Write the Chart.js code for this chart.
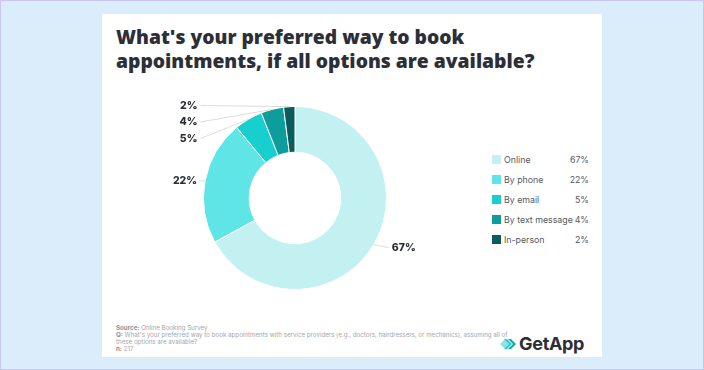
<!DOCTYPE html>
<html>
<head>
<meta charset="utf-8">
<script src="https://cdn.jsdelivr.net/npm/chart.js@4/dist/chart.umd.min.js"></script>
<style>
  html, body { margin: 0; padding: 0; }
  body {
    width: 704px; height: 370px; position: relative; overflow: hidden;
    background: #dbecfb; box-sizing: border-box; border: 1px solid #c9c6f5;
    font-family: Inter, 'Noto Sans', sans-serif;
  }
  #card {
    position: absolute; left: 101px; top: 13px; width: 500px; height: 343px;
    background: #fff;
  }
  #title {
    position: absolute; left: 14px; top: 11px; margin: 0;
    font-family: 'Open Sans', sans-serif;
    font-size: 19.3px; line-height: 24px; font-weight: 800; color: #2c2f37;
    white-space: nowrap;
  }
  #chartBox { position: absolute; left: 48px; top: 82px; width: 290px; height: 204px; }
  #donut { width: 290px; height: 204px; }
  #legend { position: absolute; left: 390px; top: 135px; width: 97px; }
  .row { display: flex; align-items: center; height: 20px; font-size: 8.8px; color: #555a60; }
  .sw { width: 9px; height: 9px; margin-right: 3px; flex: none; }
  .lbl { flex: 1; white-space: nowrap; }
  .val { text-align: right; }
  #foot {
    position: absolute; left: 14px; top: 310px; width: 380px;
    font-size: 6.2px; line-height: 7px; color: #a3a6aa; white-space: nowrap;
  }
  #foot b { color: #8c8f94; font-weight: 700; }
  #logo { position: absolute; left: 398px; top: 319px; display: flex; align-items: center; }
  #logo span { font-size: 18px; font-weight: 700; color: #2b2e36; margin-left: 2px; letter-spacing: -0.3px; }
</style>
</head>
<body>
<div id="card">
  <h1 id="title">What's your preferred way to book<br>appointments, if all options are available?</h1>
  <div id="chartBox"><canvas id="donut" width="290" height="204"></canvas></div>
  <div id="legend"></div>
  <div id="foot">
    <div><b>Source:</b> Online Booking Survey</div>
    <div><b>Q:</b> What's your preferred way to book appointments with service providers (e.g., doctors, hairdressers, or mechanics), assuming all of</div>
    <div>these options are available?</div>
    <div><b>n:</b> 217</div>
  </div>
  <div id="logo">
    <svg width="17" height="16" viewBox="0 0 17 16">
      <path d="M0 8 L5 3 L10 8 L5 13 Z" fill="#8fe3e3"/>
      <path d="M4 3 L7 3 L12 8 L7 13 L4 13 L9 8 Z" fill="#2fcfcf"/>
      <path d="M8 3 L11 3 L16 8 L11 13 L8 13 L13 8 Z" fill="#10a9a9"/>
    </svg>
    <span>GetApp</span>
  </div>
</div>
<script>
const categories = ['Online', 'By phone', 'By email', 'By text message', 'In-person'];
const shares = [67, 22, 5, 4, 2];
const colors = ['#c3f1f1', '#5fe5e5', '#17cfcf', '#0e9d9d', '#0b5d5d'];

// legend built from the same arrays
const legendEl = document.getElementById('legend');
categories.forEach((name, i) => {
  const row = document.createElement('div');
  row.className = 'row';
  row.innerHTML = '<div class="sw" style="background:' + colors[i] + '"></div>' +
    '<div class="lbl">' + name + '</div><div class="val">' + shares[i] + '%</div>';
  legendEl.appendChild(row);
});

/**
 * Draws percentage labels with leader lines. Big slices get a label beside the
 * slice middle, small ones are stacked in a column at the top left.
 */
const outsideLabels = {
  id: 'outsideLabels',
  afterDatasetsDraw(chart) {
    const { ctx } = chart;
    const arcs = chart.getDatasetMeta(0).data;
    ctx.save();
    ctx.font = '800 10.5px Inter, sans-serif';
    ctx.textBaseline = 'middle';
    ctx.lineWidth = 1;
    ctx.strokeStyle = '#dcdcdc';
    ctx.fillStyle = '#2a2d35';
    let smallIdx = 0;
    for (let i = arcs.length - 1; i >= 0; i--) {
      const arc = arcs[i];
      const { x, y, startAngle, endAngle, outerRadius } = arc.getProps(['x', 'y', 'startAngle', 'endAngle', 'outerRadius'], true);
      const mid = (startAngle + endAngle) / 2;
      const px = x + Math.cos(mid) * outerRadius;
      const py = y + Math.sin(mid) * outerRadius;
      const text = shares[i] + '%';
      if (shares[i] < 10) {
        const ly = y - outerRadius - 1 + smallIdx * 16.5;
        const lx = x - outerRadius - 6;
        smallIdx++;
        ctx.beginPath();
        ctx.moveTo(lx + 3, ly);
        ctx.lineTo(px, py);
        ctx.stroke();
        ctx.textAlign = 'right';
        ctx.fillText(text, lx, ly);
      } else if (Math.cos(mid) >= 0) {
        const ly = py + 3;
        ctx.beginPath();
        ctx.moveTo(px, py);
        ctx.lineTo(px + 15, ly);
        ctx.stroke();
        ctx.textAlign = 'left';
        ctx.fillText(text, px + 18, ly);
      } else {
        ctx.beginPath();
        ctx.moveTo(px, py);
        ctx.lineTo(px - 6, py);
        ctx.stroke();
        ctx.textAlign = 'right';
        ctx.fillText(text, px - 8, py);
      }
    }
    ctx.restore();
  },
};

new Chart(document.getElementById('donut'), {
  type: 'doughnut',
  data: {
    labels: categories,
    datasets: [{
      data: shares,
      backgroundColor: colors,
      borderColor: '#ffffff',
      borderWidth: 1,
    }],
  },
  options: {
    responsive: false,
    maintainAspectRatio: false,
    animation: false,
    cutout: '50%',
    layout: { padding: { top: 10, bottom: 10 } },
    plugins: {
      legend: { display: false },
      tooltip: { enabled: false },
    },
  },
  plugins: [outsideLabels],
});
</script>
</body>
</html>
